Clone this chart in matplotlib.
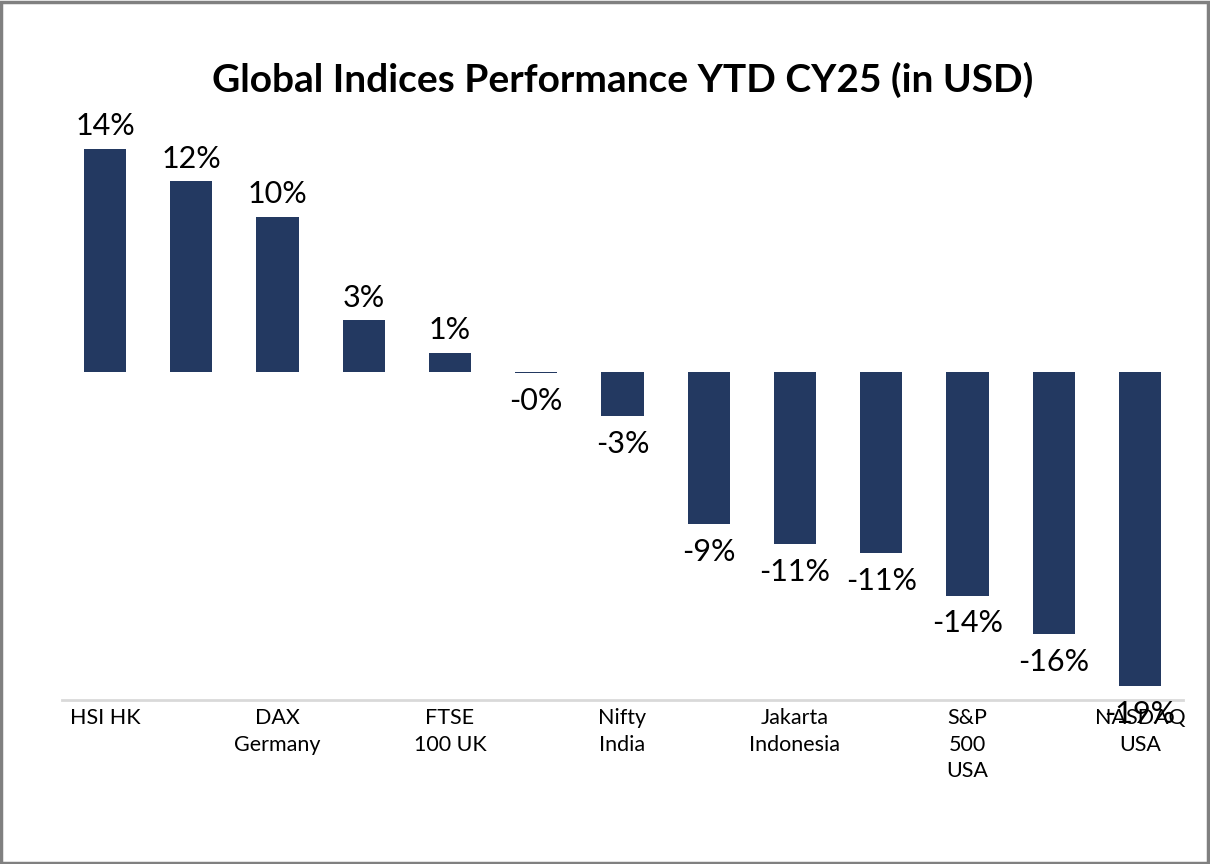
import matplotlib.pyplot as plt

# values (percent, YTD CY25 in USD)
values = [13.8, 11.8, 9.6, 3.2, 1.2, -0.05, -2.7, -9.4, -10.6, -11.2, -13.8, -16.2, -19.4]
# only every other category is labelled on the original axis
tick_labels = ['HSI HK', '', 'DAX\nGermany', '', 'FTSE\n100 UK', '', 'Nifty\nIndia', '',
               'Jakarta\nIndonesia', '', 'S&P\n500\nUSA', '', 'NASDAQ\nUSA']
title = 'Global Indices Performance YTD CY25 (in USD)'

bar_color = '#233961'
plt.rcParams['font.family'] = ['Lato', 'DejaVu Sans']

fig = plt.figure(figsize=(12.1, 8.64), dpi=100)
ax = fig.add_axes([62 / 1210, (864 - 700) / 864, (1183 - 62) / 1210, 600 / 864])

x = list(range(len(values)))
ax.bar(x, values, width=0.49, color=bar_color, zorder=2)
ax.set_xlim(-0.5, 12.5)
ax.set_ylim(-20.25, 16.8)

for i, v in enumerate(values):
    lab = f'{round(v):.0f}%' if v >= 0 else f'-{round(-v):.0f}%'
    if v >= 0:
        ax.annotate(lab, (i, v), xytext=(0, 6), textcoords='offset points',
                    ha='center', va='bottom', fontsize=22, zorder=3, annotation_clip=False)
    else:
        ax.annotate(lab, (i, v), xytext=(0, -10), textcoords='offset points',
                    ha='center', va='top', fontsize=22, zorder=3, annotation_clip=False)

ax.set_xticks(x)
ax.set_xticklabels(tick_labels, fontsize=15.5, linespacing=1.4, va='top')
ax.tick_params(axis='x', length=0, pad=6)
ax.set_yticks([])
for s in ['top', 'right', 'left']:
    ax.spines[s].set_visible(False)
ax.spines['bottom'].set_color('#d9d9d9')
ax.spines['bottom'].set_linewidth(2)

fig.text(623 / 1210, 1 - 80 / 864, title, ha='center', va='center',
         fontsize=28, fontweight='bold')

# outer frame like the exported chart area
fig.patches.append(plt.Rectangle((0.001, 0.001), 0.997, 0.997, transform=fig.transFigure,
                                 fill=False, edgecolor='#808080', linewidth=2.5))

fig.savefig('out.png', dpi=100)
